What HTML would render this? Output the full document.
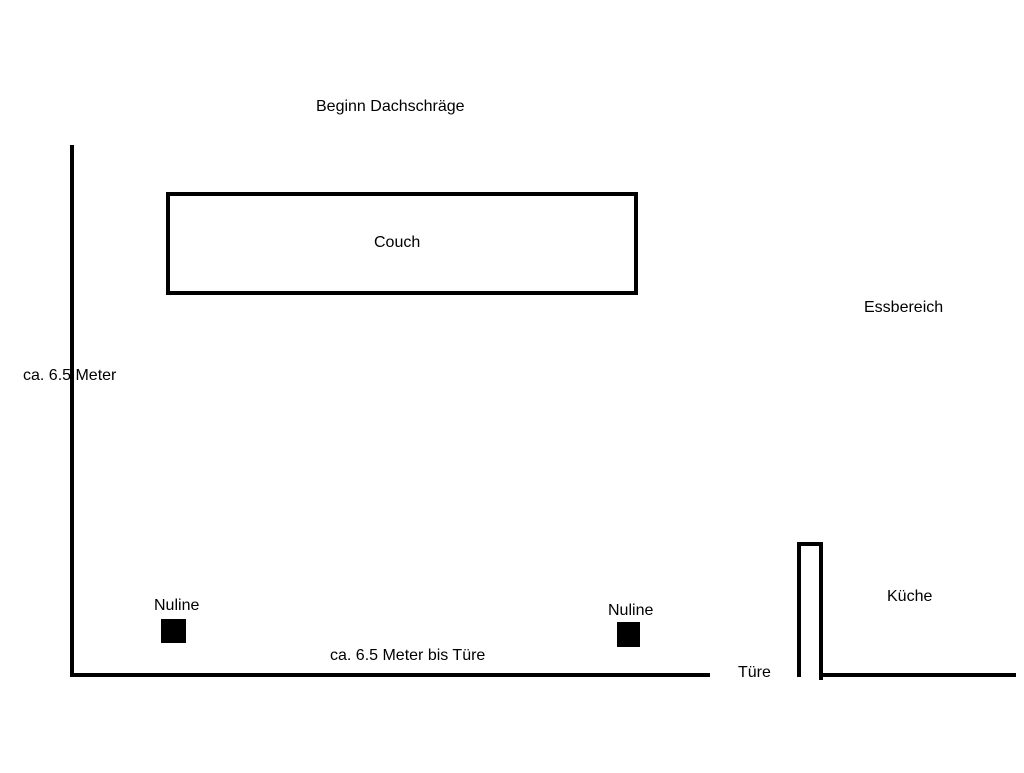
<!DOCTYPE html>
<html><head><style>
body{margin:0;width:1024px;height:768px;background:#fff;overflow:hidden;}
svg text{font-family:"Liberation Sans",sans-serif;font-size:16px;fill:#000;}
</style></head><body>
<svg width="1024" height="768" xmlns="http://www.w3.org/2000/svg">
<g stroke="#000" stroke-width="4" fill="none">
<line x1="72" y1="145" x2="72" y2="677"/>
<line x1="70" y1="675" x2="710" y2="675"/>
<rect x="168" y="194" width="468" height="99"/>
<polyline points="799,677 799,544 821,544 821,680"/>
<line x1="821" y1="675" x2="1016" y2="675"/>
</g>
<rect x="161" y="619" width="25" height="24" fill="#000"/>
<rect x="617" y="622" width="23" height="25" fill="#000"/>
<text x="316" y="111">Beginn Dachschräge</text>
<text x="374" y="247">Couch</text>
<text x="864" y="312">Essbereich</text>
<text x="23" y="380">ca. 6.5 Meter</text>
<text x="154" y="610">Nuline</text>
<text x="608" y="615">Nuline</text>
<text x="330" y="660">ca. 6.5 Meter bis Türe</text>
<text x="738" y="677">Türe</text>
<text x="887" y="601">Küche</text>
</svg>
</body></html>
